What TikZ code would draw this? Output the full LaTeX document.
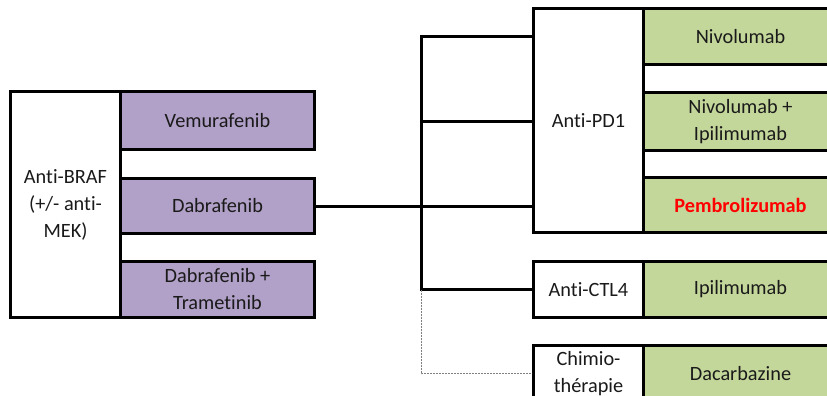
\documentclass[tikz,border=0pt]{standalone}
\usepackage{fontspec}
\setmainfont{Carlito}[Ligatures={NoCommon}]
\begin{document}
\definecolor{drugpurple}{HTML}{B1A0C7}
\definecolor{druggreen}{HTML}{C4D79B}
\definecolor{alertred}{HTML}{FF0000}
\definecolor{ink}{HTML}{1A1A1A}
\begin{tikzpicture}[x=1pt, y=-1pt,
  box/.style={draw=black, line width=3pt, rectangle, inner sep=0pt,
    anchor=north west, align=center, text=ink,
    font=\fontsize{20.3}{27}\selectfont},
  classbox/.style={box, fill=white},
  purplebox/.style={box, fill=drugpurple},
  greenbox/.style={box, fill=druggreen},
  conn/.style={draw=black, line width=3pt},
  optconn/.style={draw=gray, line width=0.9pt, dash pattern=on 2pt off 1pt}]
\clip (0,0) rectangle (827,396);
\fill[white] (0,0) rectangle (827,396);

% BRAF inhibitors
\node[classbox, minimum width=110pt, minimum height=226pt] (braf) at (9,90)
  {Anti-BRAF\\(+/- anti-\\MEK)};
\node[purplebox, minimum width=194pt, minimum height=58pt] (vemu) at (119,90) {Vemurafenib};
\node[purplebox, minimum width=194pt, minimum height=55pt] (dabra) at (119,177) {Dabrafenib};
\node[purplebox, minimum width=194pt, minimum height=56pt] (dt) at (119,260) {Dabrafenib +\\Trametinib};

% immunotherapy and chemotherapy
\node[classbox, minimum width=110pt, minimum height=224pt] (pd1) at (532,7) {Anti-PD1};
\node[greenbox, minimum width=194pt, minimum height=56pt] (nivo) at (642,7) {Nivolumab};
\node[greenbox, minimum width=194pt, minimum height=58pt] (nivoipi) at (642,91) {Nivolumab +\\Ipilimumab};
\node[greenbox, minimum width=194pt, minimum height=55pt, text=alertred, font=\fontsize{20.3}{27}\selectfont\bfseries] (pembro) at (642,176) {Pembrolizumab};
\node[classbox, minimum width=110pt, minimum height=56pt] (ctl4) at (532,260) {Anti-CTL4};
\node[greenbox, minimum width=194pt, minimum height=56pt] (ipi) at (642,260) {Ipilimumab};
\node[classbox, minimum width=110pt, minimum height=56pt] (chimio) at (532,344) {Chimio-\\thérapie};
\node[greenbox, minimum width=194pt, minimum height=56pt] (dacar) at (642,344) {Dacarbazine};

% branching connectors
\coordinate (bar) at (421,0);
\draw[conn] (pd1.west |- nivo) -- (bar |- nivo) -- (bar |- ctl4) -- (ctl4.west);
\draw[conn] (bar |- nivoipi) -- (pd1.west |- nivoipi);
\draw[conn] (dabra.east) -- (pd1.west |- dabra);
\draw[optconn] (bar |- ctl4) -- (bar |- chimio) -- (chimio.west);
\end{tikzpicture}
\end{document}
